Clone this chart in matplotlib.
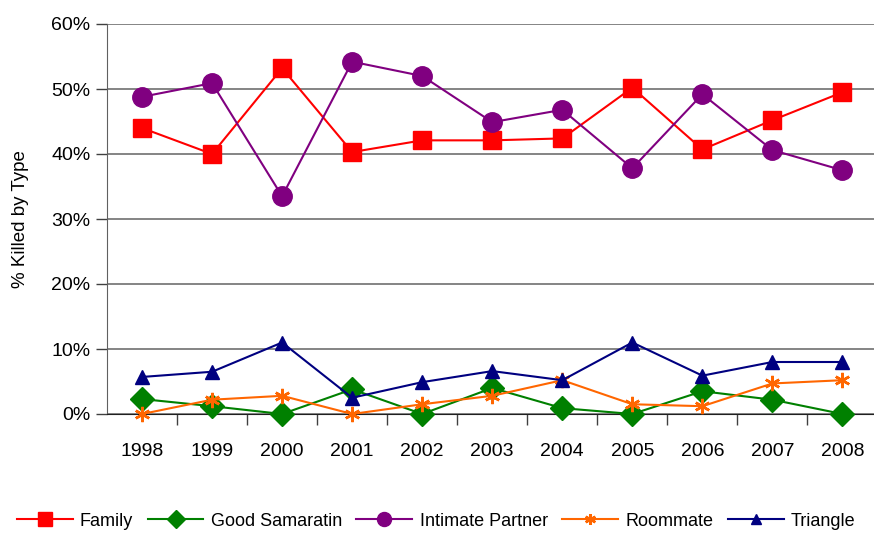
import matplotlib
matplotlib.use("Agg")
import matplotlib.pyplot as plt

years = ["1998", "1999", "2000", "2001", "2002", "2003", "2004", "2005", "2006", "2007", "2008"]
family = [44.0, 40.0, 53.2, 40.3, 42.1, 42.1, 42.4, 50.2, 40.7, 45.2, 49.5]
good_samaratin = [2.3, 1.2, 0.0, 3.8, 0.0, 4.0, 0.9, 0.0, 3.5, 2.2, 0.0]
intimate_partner = [48.8, 50.9, 33.5, 54.2, 52.0, 44.9, 46.8, 37.8, 49.2, 40.6, 37.5]
roommate = [0.0, 2.2, 2.8, 0.0, 1.5, 2.8, 5.2, 1.5, 1.2, 4.7, 5.2]
triangle = [5.7, 6.5, 11.0, 2.5, 4.9, 6.6, 5.2, 11.0, 5.9, 8.0, 8.0]
yticks = [0, 10, 20, 30, 40, 50, 60]
ytick_labels = ["0%", "10%", "20%", "30%", "40%", "50%", "60%"]

plt.rcParams["font.family"] = ["Liberation Sans", "DejaVu Sans"]

fig = plt.figure(figsize=(8.74, 5.33), dpi=100)
ax = fig.add_axes([107 / 874, 1 - 414 / 533, 1 - 107 / 874 + 0.004, (414 - 24) / 533])

x = list(range(len(years)))
series = [
    ("Family", family, "#FF0000", dict(marker="s", markersize=13.5)),
    ("Good Samaratin", good_samaratin, "#008000", dict(marker="D", markersize=12.5)),
    ("Intimate Partner", intimate_partner, "#800080", dict(marker="o", markersize=14)),
    ("Roommate", roommate, "#FF6600", dict(marker=(6, 2, 0), markersize=11, markeredgewidth=1.8)),
    ("Triangle", triangle, "#000080", dict(marker="^", markersize=10)),
]
for name, vals, col, mk in series:
    ax.plot(x, vals, color=col, lw=1.5, label=name, markerfacecolor=col,
            markeredgecolor=col, clip_on=False, zorder=3, **mk)

ax.set_xlim(-0.5, len(years) - 0.5)
ax.set_ylim(0, 60)
ax.set_yticks(yticks)
ax.set_yticklabels(ytick_labels)
ax.set_xticks(x)
ax.set_xticklabels(years)
ax.set_xticks([i + 0.5 for i in range(len(years) - 1)], minor=True)
ax.tick_params(axis="x", which="major", length=0, pad=21, labelsize=14)
ax.tick_params(axis="x", which="minor", length=8, width=1, color="#404040", direction="out")
ax.tick_params(axis="y", length=8, width=1, color="#404040", direction="out", labelsize=14, pad=4)
ax.yaxis.grid(True, color="#707070", lw=1.2)
ax.set_axisbelow(True)
for s in ["top", "right"]:
    ax.spines[s].set_visible(False)
ax.spines["left"].set_color("#606060")
ax.spines["bottom"].set_color("#202020")
ax.set_ylabel("% Killed by Type", fontsize=13.5, labelpad=16)

leg = fig.legend(loc="center", bbox_to_anchor=(0.499, 1 - 521 / 533), ncol=5, frameon=False,
                 fontsize=13, handlelength=3.1, handletextpad=0.4, columnspacing=0.8,
                 markerscale=0.72)

fig.savefig("out.png", dpi=100)
